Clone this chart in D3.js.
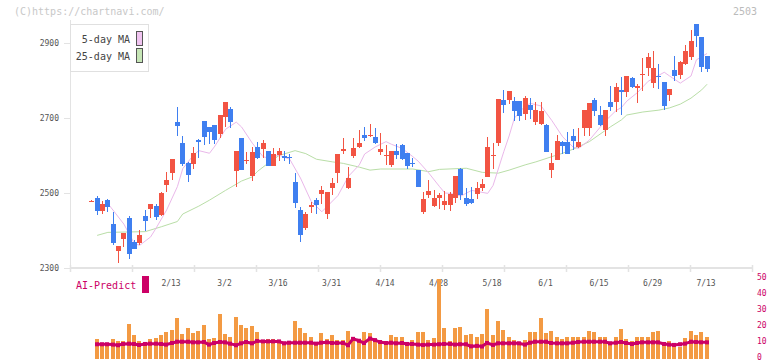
<!DOCTYPE html>
<html>
<head>
<meta charset="utf-8">
<script src="https://cdn.jsdelivr.net/npm/d3@7"></script>
<style>
  html, body { margin: 0; padding: 0; background: #fff; }
  svg { display: block; font-family: "DejaVu Sans Mono", monospace; }
</style>
</head>
<body>
<div id="chart"></div>
<script>
// daily candles, index 0 .. 115
const open = [2478,2487,2453,2481,2417,2345,2377,2433,2369,2366,2439,2458,2465,2441,2521,2553,2689,2633,2580,2577,
  2641,2692,2676,2681,2657,2703,2724,2559,2647,2587,2545,2623,2617,2612,2572,2601,2599,2596,2529,2455,
  2407,2463,2481,2497,2444,2513,2553,2612,2513,2599,2623,2655,2653,2649,2609,2600,2575,2612,2628,2607,
  2581,2561,2449,2495,2465,2487,2468,2468,2487,2564,2487,2484,2497,2513,2543,2600,2633,2748,2748,2745,
  2745,2711,2735,2689,2684,2681,2561,2588,2636,2636,2652,2623,2673,2673,2748,2708,2668,2743,2743,2775,
  2770,2807,2780,2816,2833,2793,2813,2796,2761,2828,2815,2844,2863,2951,2916,2865];
const high = [2481,2492,2479,2485,2449,2359,2393,2439,2375,2401,2455,2470,2471,2503,2556,2591,2729,2652,2583,2623,
  2644,2692,2676,2681,2708,2743,2729,2612,2647,2609,2623,2636,2641,2612,2620,2620,2612,2604,2553,2463,
  2449,2476,2487,2519,2503,2540,2604,2647,2569,2647,2668,2676,2684,2673,2660,2628,2612,2631,2631,2607,
  2593,2561,2503,2535,2508,2500,2505,2503,2545,2567,2513,2516,2529,2537,2649,2633,2751,2775,2772,2756,
  2745,2759,2753,2743,2743,2684,2607,2655,2639,2663,2671,2673,2721,2740,2753,2732,2721,2785,2793,2809,
  2812,2809,2792,2860,2873,2879,2844,2796,2777,2865,2852,2895,2935,2951,2916,2865];
const low = [2477,2442,2445,2450,2361,2314,2357,2325,2350,2362,2399,2433,2428,2439,2503,2535,2652,2572,2529,2564,
  2593,2628,2631,2631,2648,2676,2673,2516,2561,2577,2532,2591,2593,2572,2572,2585,2585,2577,2460,2369,
  2401,2447,2444,2471,2431,2495,2527,2604,2511,2593,2620,2639,2649,2631,2601,2575,2569,2591,2588,2564,
  2569,2516,2444,2487,2463,2457,2455,2452,2473,2481,2465,2471,2484,2505,2543,2564,2625,2713,2737,2692,
  2692,2695,2697,2681,2681,2609,2540,2588,2604,2604,2615,2620,2652,2652,2705,2679,2652,2719,2716,2708,
  2756,2780,2740,2772,2812,2780,2777,2721,2745,2799,2804,2841,2855,2889,2823,2823];
const close = [2480,2453,2470,2463,2366,2359,2393,2337,2351,2388,2425,2470,2437,2500,2535,2591,2679,2577,2548,2607,
  2637,2649,2663,2641,2708,2743,2689,2612,2561,2589,2609,2593,2633,2572,2604,2612,2593,2593,2473,2388,
  2444,2468,2468,2508,2503,2527,2604,2617,2540,2620,2633,2647,2655,2633,2617,2601,2612,2601,2591,2572,
  2580,2516,2484,2505,2487,2495,2479,2497,2545,2495,2471,2473,2513,2524,2623,2602,2751,2735,2772,2719,
  2705,2753,2721,2721,2719,2609,2580,2639,2625,2604,2639,2636,2721,2740,2719,2681,2721,2729,2783,2769,
  2812,2783,2785,2818,2863,2833,2811,2732,2777,2812,2849,2879,2905,2919,2836,2831];

// moving averages as [day index, value]
const ma5 = [[3,2472],[6,2417],[8,2364],[9,2361],[11,2383],[12,2406],[14,2455],[16,2517],[17,2565],[19,2601],
  [20,2613],[22,2606],[23,2625],[25,2670],[27,2689],[28,2676],[30,2633],[32,2597],[33,2593],[35,2601],
  [37,2590],[39,2540],[41,2478],[43,2450],[46,2493],[48,2545],[50,2575],[51,2604],[53,2623],[55,2637],
  [56,2630],[58,2619],[60,2597],[61,2585],[63,2553],[65,2517],[66,2500],[67,2499],[69,2492],[71,2507],
  [74,2499],[75,2520],[77,2610],[78,2652],[79,2700],[81,2732],[82,2739],[84,2732],[86,2693],[88,2650],
  [90,2622],[91,2619],[93,2641],[95,2675],[96,2692],[98,2720],[99,2728],[100,2745],[102,2768],[104,2798],
  [107,2822],[108,2812],[110,2793],[112,2812],[113,2855],[115,2872]];
const ma25 = [[1,2387],[3,2395],[10,2397],[13,2410],[16,2424],[17,2444],[20,2465],[22,2481],[25,2507],[28,2532],
  [30,2543],[31,2558],[33,2580],[35,2600],[38,2613],[40,2605],[42,2590],[45,2583],[47,2579],[50,2569],
  [52,2561],[54,2564],[60,2564],[63,2557],[65,2563],[70,2566],[73,2555],[76,2553],[78,2561],[81,2575],
  [83,2583],[86,2597],[88,2606],[90,2617],[93,2637],[95,2657],[97,2677],[99,2695],[100,2708],[103,2716],
  [106,2721],[108,2727],[110,2737],[112,2753],[114,2775],[115,2790]];

// volume panel (no bar for day 0)
const volume = [null,12.5,9,10,12.5,11,11,21.9,14.8,11,10,12.5,13,14.8,16.7,18,25.4,15.4,19.2,16,
  17.5,21,12.5,13,28,15.4,14,26,21,19.2,20.4,16.7,11.7,12.5,12.5,11,9,11,23.5,19.2,
  16,14,9,16,12.5,14.8,11.7,11.7,17.3,11.7,11.7,16.7,16,11.7,10,10,14.8,13.5,14,9,
  11.7,16.7,16.7,11.7,12.9,50,19.2,11,19.2,19.8,14.8,15.4,13.5,15.4,31,14.8,23.5,18,14,11.7,
  9,11.7,16.7,16.7,25.4,16,17.3,14,12.5,13.5,13.5,14,14,17.3,16.7,14,13.5,10,14,18.75,
  12.5,11,13.5,13.5,13.5,16.7,17.3,10,11,9,7.5,12.9,17.3,14.8,16.7,13.5];
const aiPredict = [null,9.2,9.2,9.2,9.0,8.6,9.4,9.6,9.4,8.8,9.4,9.6,9.6,9.4,9.0,10.0,10.8,10.8,10.8,10.4,
  10.4,10.6,9.0,10.0,10.6,10.4,9.6,8.6,9.8,10.6,9.8,11.2,11.0,11.0,11.0,11.0,9.8,10.2,10.2,10.2,
  10.2,10.2,9.6,10.2,10.4,10.0,10.0,10.0,8.6,12.6,11.4,10.0,12.8,11.8,10.6,10.0,10.2,9.8,10.0,9.4,
  9.4,9.0,8.8,9.0,9.0,9.2,9.4,9.4,9.0,9.2,9.2,7.9,8.2,7.8,10.0,8.8,9.8,9.8,9.8,9.8,
  9.8,9.0,10.2,10.8,10.8,10.8,10.0,9.8,9.8,9.8,10.2,10.6,10.8,10.8,10.8,10.8,10.8,9.8,10.2,10.6,
  10.0,9.4,10.0,10.4,10.4,10.4,10.4,9.4,9.0,8.8,9.2,9.6,10.8,10.6,10.4,10.4];

const dateLabels = ["2/13","3/2","3/16","3/31","4/14","4/28","5/18","6/1","6/15","6/29","7/13"];
const dateIndex = [15,25,35,45,55,65,75,85,95,105,115];
const priceTicks = [2300, 2500, 2700, 2900];
const volumeTicks = [0, 10, 20, 30, 40, 50];

const RED = "#f25443", BLUE = "#3f7ff0", AXIS = "#e3e3e3", TEXT = "#555", MAGENTA = "#cc0066";

const svg = d3.select("#chart").append("svg")
  .attr("width", 772)
  .attr("height", 361);

const xScale = d3.scaleLinear().domain([0, 115]).range([91.8, 707.05]);
const yScale = d3.scaleLinear().domain([2300, 2900]).range([268, 43]);
const vScale = d3.scaleLinear().domain([0, 50]).range([359, 279]);
const gridScale = d3.scaleLinear().domain([0, 11]).range([70, 752]);

const left = i => Math.round(xScale(i) - 2.5);

// header texts
svg.append("text")
  .attr("x", 14).attr("y", 12)
  .attr("dominant-baseline", "middle")
  .attr("font-size", 10).attr("fill", "#c8c8c8")
  .text("(C)https://chartnavi.com/");

svg.append("text")
  .attr("x", 757).attr("y", 12)
  .attr("text-anchor", "end")
  .attr("dominant-baseline", "middle")
  .attr("font-size", 10).attr("fill", "#bbb")
  .text("2503");

// axes frame
svg.append("line")
  .attr("x1", 70.5).attr("x2", 70.5).attr("y1", 20).attr("y2", 268)
  .attr("stroke", AXIS).attr("stroke-width", 1);
svg.append("line")
  .attr("x1", 70).attr("x2", 752).attr("y1", 268).attr("y2", 268)
  .attr("stroke", AXIS).attr("stroke-width", 2);

svg.append("g")
  .selectAll("line")
  .data(d3.range(12))
  .enter().append("line")
  .attr("x1", d => Math.round(gridScale(d)) + 0.5)
  .attr("x2", d => Math.round(gridScale(d)) + 0.5)
  .attr("y1", 265).attr("y2", 272)
  .attr("stroke", AXIS).attr("stroke-width", 1.5);

const yAxis = svg.append("g")
  .attr("transform", "translate(70,0)")
  .call(d3.axisLeft(yScale).tickValues(priceTicks).tickFormat(d3.format("d")).tickSize(6).tickPadding(5));
yAxis.select(".domain").remove();
yAxis.selectAll("line").attr("stroke", AXIS);
yAxis.selectAll("text")
  .attr("font-family", "DejaVu Sans Mono").attr("font-size", 8).attr("fill", TEXT);

svg.append("g")
  .selectAll("text")
  .data(dateLabels)
  .enter().append("text")
  .attr("x", (d, i) => xScale(dateIndex[i]) - 1)
  .attr("y", 283)
  .attr("text-anchor", "middle")
  .attr("dominant-baseline", "middle")
  .attr("font-size", 8).attr("fill", TEXT)
  .text(d => d);

// moving averages
const maLine = d3.line()
  .x(d => xScale(d[0]))
  .y(d => yScale(d[1]));

svg.append("path")
  .datum(ma25)
  .attr("fill", "none").attr("stroke", "#b9dea7").attr("stroke-width", 1)
  .attr("d", maLine);
svg.append("path")
  .datum(ma5)
  .attr("fill", "none").attr("stroke", "#eab8ea").attr("stroke-width", 1)
  .attr("d", maLine);

// candles
const candles = svg.append("g").attr("shape-rendering", "crispEdges");
candles.selectAll(".wick")
  .data(open)
  .enter().append("rect")
  .attr("class", "wick")
  .attr("x", (d, i) => left(i) + 2)
  .attr("width", 1)
  .attr("y", (d, i) => yScale(high[i]))
  .attr("height", (d, i) => Math.max(1, yScale(low[i]) - yScale(high[i])))
  .attr("fill", (d, i) => close[i] >= d ? RED : BLUE);
candles.selectAll(".body")
  .data(open)
  .enter().append("rect")
  .attr("class", "body")
  .attr("x", (d, i) => left(i))
  .attr("width", 5)
  .attr("y", (d, i) => yScale(Math.max(d, close[i])))
  .attr("height", (d, i) => Math.max(1, Math.abs(yScale(d) - yScale(close[i]))))
  .attr("fill", (d, i) => close[i] >= d ? RED : BLUE);

// legend
const legend = svg.append("g");
legend.append("rect")
  .attr("x", 70.5).attr("y", 24.5).attr("width", 78).attr("height", 47)
  .attr("fill", "#fff").attr("stroke", "#e0e0e0");
[["5-day MA", "#f0c4f0", 40], ["25-day MA", "#c6e6b6", 57]].forEach(([label, color, y]) => {
  legend.append("text")
    .attr("x", 130).attr("y", y)
    .attr("text-anchor", "end").attr("dominant-baseline", "middle")
    .attr("font-size", 10).attr("fill", "#444")
    .text(label);
  legend.append("rect")
    .attr("x", 136.5).attr("y", y - 8.5).attr("width", 6).attr("height", 14)
    .attr("fill", color).attr("stroke", "#555");
});

// volume panel
svg.append("text")
  .attr("x", 76).attr("y", 286)
  .attr("dominant-baseline", "middle")
  .attr("font-size", 10).attr("fill", MAGENTA)
  .text("AI-Predict");
svg.append("rect")
  .attr("x", 142).attr("y", 276).attr("width", 7).attr("height", 17)
  .attr("fill", MAGENTA);

const volData = volume.map((v, i) => ({ i, v })).filter(d => d.v != null);
const aiData = aiPredict.map((v, i) => ({ i, v })).filter(d => d.v != null);

svg.append("g")
  .attr("shape-rendering", "crispEdges")
  .selectAll("rect")
  .data(volData)
  .enter().append("rect")
  .attr("x", d => left(d.i))
  .attr("width", 4)
  .attr("y", d => vScale(d.v))
  .attr("height", d => vScale(0) - vScale(d.v))
  .attr("fill", "#f39a43");

const aiLine = d3.line()
  .x(d => left(d.i) + 2)
  .y(d => vScale(d.v));
svg.append("path")
  .datum(aiData)
  .attr("fill", "none").attr("stroke", MAGENTA).attr("stroke-width", 3)
  .attr("d", aiLine);
svg.append("g")
  .selectAll("rect")
  .data(aiData)
  .enter().append("rect")
  .attr("x", d => left(d.i))
  .attr("y", d => vScale(d.v) - 2)
  .attr("width", 4).attr("height", 4)
  .attr("fill", MAGENTA);

const vAxis = svg.append("g")
  .attr("transform", "translate(755,-2)")
  .call(d3.axisRight(vScale).tickValues(volumeTicks).tickSize(0).tickPadding(2));
vAxis.select(".domain").remove();
vAxis.selectAll("text")
  .attr("font-family", "DejaVu Sans Mono").attr("font-size", 8).attr("fill", MAGENTA);
</script>
</body>
</html>
